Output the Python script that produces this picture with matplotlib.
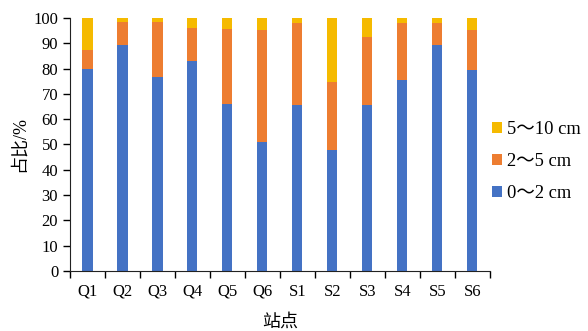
import numpy as np
import matplotlib
matplotlib.use("Agg")
import matplotlib.pyplot as plt

plt.rcParams['font.family'] = ['Liberation Serif', 'Noto Sans CJK SC']

stations = ['Q1', 'Q2', 'Q3', 'Q4', 'Q5', 'Q6', 'S1', 'S2', 'S3', 'S4', 'S5', 'S6']
# 0~2 cm, 2~5 cm, 5~10 cm (%)
fine = [79.8, 89.4, 76.5, 83.0, 66.1, 51.0, 65.6, 47.8, 65.7, 75.5, 89.3, 79.6]
mid = [7.5, 8.9, 21.8, 13.1, 29.6, 44.4, 32.3, 26.7, 26.7, 22.4, 8.7, 15.7]
coarse = [100 - a - b for a, b in zip(fine, mid)]

colors = ['#4472C4', '#ED7D31', '#F5BA00']

fig = plt.figure(figsize=(5.88, 3.31), dpi=100)
ax = fig.add_axes([0.119, 0.181, 0.714, 0.765])

x = np.arange(len(stations))
w = 0.29
b1 = ax.bar(x, fine, w, color=colors[0], label='0～2 cm')
b2 = ax.bar(x, mid, w, bottom=fine, color=colors[1], label='2～5 cm')
b3 = ax.bar(x, coarse, w, bottom=np.array(fine) + np.array(mid), color=colors[2], label='5～10 cm')

ax.set_xlim(-0.5, len(stations) - 0.5)
ax.set_ylim(0, 100)
ax.set_yticks(range(0, 101, 10))
ax.set_xticks(x)
ax.set_xticklabels(stations)
ax.set_xticks(np.arange(-0.5, len(stations), 1), minor=True)
ax.tick_params(axis='x', which='major', length=0, labelsize=12, pad=9)
ax.tick_params(axis='x', which='minor', length=5, width=1, direction='out')
ax.tick_params(axis='y', length=5, width=1, direction='out', labelsize=12)

for s in ['top', 'right']:
    ax.spines[s].set_visible(False)
for s in ['left', 'bottom']:
    ax.spines[s].set_color('#222222')

ax.set_xlabel('站点', fontsize=13, labelpad=10)
ax.set_ylabel('占比/%', fontsize=13, labelpad=4)

fig.legend(handles=[b3, b2, b1], loc='center left', bbox_to_anchor=(0.808, 0.512),
           frameon=False, fontsize=13.3, handlelength=0.55, handleheight=0.55,
           handletextpad=0.25, labelspacing=0.82)

fig.savefig('out.png', dpi=100)
